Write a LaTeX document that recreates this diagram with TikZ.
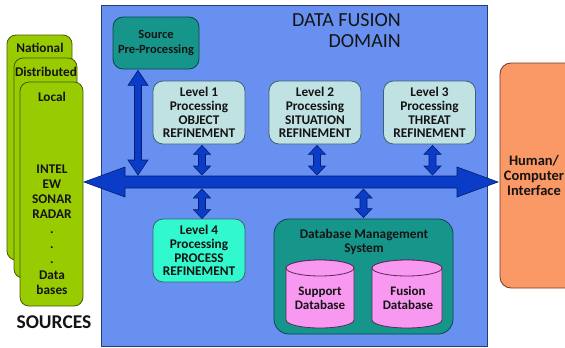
\documentclass[tikz,border=0pt]{standalone}
\usepackage{fontspec}
\setmainfont{Carlito}
\usetikzlibrary{calc}
\definecolor{domain}{RGB}{104,144,240}
\definecolor{domline}{RGB}{40,60,120}
\definecolor{busblue}{RGB}{10,60,200}
\definecolor{busline}{RGB}{0,30,110}
\definecolor{srcgreen}{RGB}{153,204,0}
\definecolor{srcline}{RGB}{70,90,10}
\definecolor{tealbox}{RGB}{22,150,138}
\definecolor{tealline}{RGB}{10,70,70}
\definecolor{lightbox}{RGB}{192,226,226}
\definecolor{lightline}{RGB}{60,100,110}
\definecolor{aquabox}{RGB}{50,248,205}
\definecolor{pinkdb}{RGB}{248,152,240}
\definecolor{pinkline}{RGB}{90,40,90}
\definecolor{orangebox}{RGB}{250,152,102}
\definecolor{orangeline}{RGB}{110,60,40}
\definecolor{txt}{RGB}{20,20,20}
\newcommand\vdarrow[4]{%
  \path[arrowfill] let \p1=(#1), \p2=(#2) in
    (\x1,\y1) -- ({\x1+#3},{\y1-#4}) -- ({\x1+3.5pt},{\y1-#4}) -- ({\x1+3.5pt},{\y2+#4})
    -- ({\x1+#3},{\y2+#4}) -- (\x1,\y2) -- ({\x1-#3},{\y2+#4}) -- ({\x1-3.5pt},{\y2+#4})
    -- ({\x1-3.5pt},{\y1-#4}) -- ({\x1-#3},{\y1-#4}) -- cycle;}
\newcommand\hdarrow[2]{%
  \path[arrowfill] let \p1=(#1), \p2=(#2) in
    (\x1,\y1) -- ({\x1+41pt},{\y1+15pt}) -- ({\x1+41pt},{\y1+6pt}) -- ({\x2-41pt},{\y1+6pt})
    -- ({\x2-41pt},{\y1+15pt}) -- (\x2,\y1) -- ({\x2-41pt},{\y1-15pt}) -- ({\x2-41pt},{\y1-6pt})
    -- ({\x1+41pt},{\y1-6pt}) -- ({\x1+41pt},{\y1-15pt}) -- cycle;}
\begin{document}
\begin{tikzpicture}[x=1pt,y=-1pt,
  arrowfill/.style={fill=busblue,draw=busline,line width=0.6pt,line join=miter},
  srcbox/.style={draw=srcline,fill=srcgreen,line width=0.8pt,rounded corners=9pt,inner sep=0pt},
  lvlbox/.style={draw=lightline,fill=lightbox,line width=0.8pt,rounded corners=10pt,inner sep=0pt,
     minimum width=92pt,minimum height=63pt,align=center,text=txt,
     font=\bfseries\fontsize{13.3}{13.7}\selectfont},
  tealstyle/.style={draw=tealline,fill=tealbox,line width=0.8pt,inner sep=0pt},
  lbl/.style={text=txt,align=center,inner sep=0pt,font=\bfseries\fontsize{13.3}{15.1}\selectfont},
  cyl/.style={draw=pinkline,fill=pinkdb,line width=0.8pt}]
\useasboundingbox (0,0) rectangle (565,348);
\clip (0,0) rectangle (565,348);
\fill[white] (0,0) rectangle (565,348);
% domain
\draw[draw=domline,fill=domain,line width=0.6pt] (101.5,5.5) rectangle (487.5,346.5);
\node[anchor=east,align=right,text=txt,inner sep=0pt,font=\fontsize{20}{21}\selectfont] (title) at (401,31) {DATA FUSION\\DOMAIN};
% sources
\node[srcbox,minimum width=65pt,minimum height=225pt] (nat) at (39.5,147.5) {};
\node[srcbox,minimum width=63pt,minimum height=220pt] (dist) at (45.5,168) {};
\node[srcbox,minimum width=63pt,minimum height=224pt] (loc) at (51.5,194) {};
\node[lbl] (natl) at (40,48) {National};
\node[lbl] (distl) at (46,72) {Distributed};
\node[lbl] (locl) at (52,97) {Local};
\node[lbl] (locs) at (52,229.5) {INTEL\\EW\\SONAR\\RADAR\\.\\.\\.\\Data\\bases};
\node[text=txt,inner sep=0pt,font=\bfseries\fontsize{19.5}{21}\selectfont] (srcs) at (54,322) {SOURCES};
% human interface
\node[draw=orangeline,fill=orangebox,line width=0.8pt,rounded corners=11pt,minimum width=76pt,minimum height=225pt] (hci) at (538,175.5) {};
\node[lbl,font=\bfseries\fontsize{14.5}{15}\selectfont] (hcil) at (534,175) {Human/\\Computer\\Interface};
% boxes
\node[tealstyle,rounded corners=10pt,minimum width=86pt,minimum height=52pt,align=center,text=txt,
  font=\bfseries\fontsize{12.5}{15}\selectfont] (pre) at (156,43) {Source\\Pre-Processing};
\node[lvlbox] (l1) at (199,112.5) {Level 1\\Processing\\OBJECT\\REFINEMENT};
\node[lvlbox] (l2) at (315,112.5) {Level 2\\Processing\\SITUATION\\REFINEMENT};
\node[lvlbox] (l3) at (429.5,112.5) {Level 3\\Processing\\THREAT\\REFINEMENT};
\node[lvlbox,fill=aquabox] (l4) at (199,250.5) {Level 4\\Processing\\PROCESS\\REFINEMENT};
\node[tealstyle,rounded corners=15pt,minimum width=179pt,minimum height=115pt] (db) at (363.5,276.5) {};
\node[lbl,font=\bfseries\fontsize{13.3}{14}\selectfont] (dbl) at (364,242) {Database Management\\System};
% cylinders
\draw[cyl] (286,268) -- (286,320) arc (180:0:34 and 8) -- (354,268) arc (0:-180:34 and 8) -- cycle;
\draw[cyl] (320,268) ellipse [x radius=34, y radius=8];
\node[lbl,font=\bfseries\fontsize{13}{14}\selectfont] (sup) at (320,298) {Support\\Database};
\draw[cyl] (372,268) -- (372,320) arc (180:0:35 and 8) -- (442,268) arc (0:-180:35 and 8) -- cycle;
\draw[cyl] (407,268) ellipse [x radius=35, y radius=8];
\node[lbl,font=\bfseries\fontsize{13}{14}\selectfont] (fus) at (408,298) {Fusion\\Database};
% bus
\coordinate (busL) at (84,182);
\coordinate (busR) at (498,182);
\coordinate (bust) at (300,175);
\coordinate (busb) at (300,189);
\hdarrow{busL}{busR}
% vertical connectors
\coordinate (pa) at ([xshift=-18pt,yshift=-1pt]pre.south);
\vdarrow{pa}{pa |- bust}{10pt}{15pt}
\coordinate (a1) at ([xshift=3pt,yshift=-1pt]l1.south);
\coordinate (a2) at ([xshift=2pt,yshift=-1pt]l2.south);
\coordinate (a3) at ([xshift=3pt,yshift=-1pt]l3.south);
\vdarrow{a1}{a1 |- bust}{8.5pt}{9pt}
\vdarrow{a2}{a2 |- bust}{8.5pt}{9pt}
\vdarrow{a3}{a3 |- bust}{8.5pt}{9pt}
\coordinate (a4) at ([xshift=3pt]l4.north);
\coordinate (a5) at ([yshift=1pt]db.north);
\vdarrow{a4 |- busb}{a4}{8.5pt}{9pt}
\vdarrow{a5 |- busb}{a5}{8.5pt}{9pt}
\end{tikzpicture}
\end{document}
